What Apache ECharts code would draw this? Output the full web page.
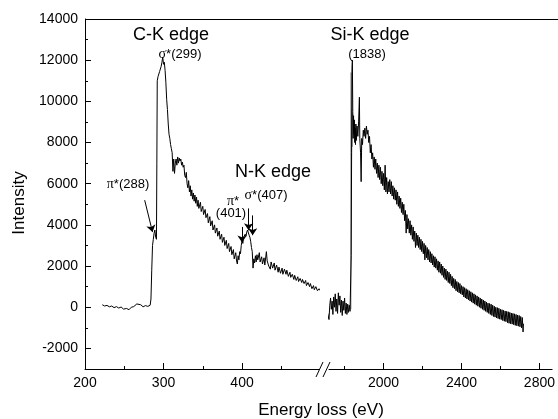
<!DOCTYPE html>
<html>
<head>
<meta charset="utf-8">
<script src="https://cdn.jsdelivr.net/npm/echarts@6.0.0/dist/echarts.min.js"></script>
<style>
  html, body { margin: 0; padding: 0; background: #fff; }
  #chart { width: 558px; height: 419px; }
</style>
</head>
<body>
<div id="chart"></div>
<script>
// Low-loss side of the spectrum: C-K and N-K edges [energy loss eV, counts]
const cnEdgeSpectrum = [
  [222,120],[225,60],[228,90],[231,20],[234,60],[237,-20],[240,30],[243,-40],[246,10],[249,-90],
  [251,-170],[253,-60],[256,-120],[259,0],[262,30],[264,110],[266,160],[268,80],[271,120],[274,20],
  [277,80],[280,40],[283,100],[284,400],[285,1800],[286,3000],[287,3300],[288,3600],[289,3750],[290,3400],
  [291,3300],[291.5,7000],[292,11000],[293,11200],[295,11450],[297,11700],[298,11900],[299,12150],[300,11800],[301,11900],
  [302,11500],[303,10900],[304,10100],[305,9600],[306,8900],[307,8400],[308,8200],[309,7900],[310,7700],[311,7500],
  [312,6600],[313,7200],[314,6500],[315,7000],[316,7200],[317,6900],[318,7300],[319,7000],[320,7250],[321,7100],
  [322,7200],[323,6900],[324,7050],[325,6800],[326,6900],[327,6400],[328,6300],[329,6550],[330,6000],[331,5800],
  [332,6150],[333,5600],[334,5900],[335,5400],[336,5700],[337,5250],[338,5550],[339,5150],[340,5450],[341,5050],
  [342,5350],[343,4900],[344,5200],[345,4800],[347,5100],[348,4650],[350,4900],[351,4500],[353,4750],[354,4350],
  [356,4550],[357,4100],[359,4400],[360,3950],[362,4200],[363,3750],[365,4000],[366,3600],[368,3850],[369,3450],
  [371,3700],[372,3300],[374,3550],[375,3150],[377,3400],[378,3000],[380,3250],[381,2850],[383,3100],[384,2700],
  [386,2950],[387,2550],[389,2800],[390,2350],[392,2650],[393,2250],[394,2100],[395,2500],[396,2300],[397,2700],
  [398,2600],[399,3000],[400,3250],[401,3100],[402,3400],[403,3350],[404,3550],[405,3450],[406,3650],[407,3750],
  [408,3700],[409,3500],[410,3400],[411,3200],[412,2900],[413,2700],[414,1900],[415,2350],[416,2150],[417,2500],
  [418,2200],[419,2550],[420,2300],[422,2650],[423,2200],[425,2450],[426,2100],[428,2400],[429,2050],[431,2700],
  [432,2250],[434,2000],[436,1850],[437,2200],[439,1900],[441,2150],[442,1800],[444,2050],[446,1700],[447,1950],
  [449,1650],[451,1900],[452,1600],[454,1850],[456,1600],[457,1800],[459,1500],[461,1700],[462,1450],[464,1600],
  [466,1350],[467,1550],[469,1300],[471,1480],[472,1250],[474,1400],[476,1200],[477,1350],[479,1150],[481,1300],
  [482,1050],[484,1200],[486,1000],[487,1150],[489,900],[491,1050],[492,850],[494,1000],[496,800],[498,900],[499,820]
];

// High-loss side: Si-K edge [energy loss eV, counts]
const siEdgeSpectrum = [
  [1675,820],[1700,200],[1712,-250],[1720,-600],[1724,100],[1728,450],[1732,-100],[1736,300],[1740,-350],[1744,500],[1748,0],
  [1752,650],[1756,-200],[1760,400],[1764,-300],[1768,700],[1772,100],[1776,550],[1780,-250],[1784,350],[1788,-400],
  [1792,300],[1796,-150],[1800,450],[1804,-300],[1808,200],[1812,-350],[1816,150],[1820,-250],[1824,100],[1828,-200],
  [1832,-150],[1834,2500],[1836,7500],[1838,11600],[1840,12000],[1842,9500],[1844,8200],[1846,9300],[1848,8400],[1850,9100],
  [1852,8000],[1854,8700],[1856,7900],[1858,8900],[1860,8100],[1864,8800],[1868,8300],[1872,9000],[1876,10200],[1878,8200],
  [1882,7500],[1885,6100],[1888,8200],[1892,7900],[1896,8600],[1900,8300],[1904,8700],[1908,8200],[1912,8800],[1916,8400],
  [1920,8600],[1924,8000],[1928,8300],[1932,7500],[1936,7900],[1940,7200],[1944,7500],[1948,6800],[1952,7300],[1956,6700],
  [1960,7200],[1964,6500],[1968,7000],[1972,6300],[1976,6900],[1980,6200],[1984,6800],[1988,6000],[1992,6600],[1996,5900],
  [2000,6500],[2004,5700],[2008,6900],[2012,5600],[2016,6300],[2020,5500],[2024,6100],[2028,5600],[2032,6200],[2036,5500],
  [2040,6100],[2044,5400],[2048,5900],[2052,5250],[2056,5800],[2060,5200],[2064,5700],[2068,5000],[2072,5600],[2076,4900],
  [2080,5400],[2084,4800],[2088,5300],[2092,4600],[2096,5100],[2100,4500],[2104,5000],[2108,4200],[2112,4700],[2116,3600],
  [2120,4500],[2124,3800],[2128,4300],[2132,3600],[2136,4200],[2140,3500],[2144,4000],[2148,3300],[2152,3900],[2156,3200],
  [2160,3700],[2164,2900],[2168,3600],[2172,3000],[2176,3500],[2180,2900],[2184,3400],[2188,2800],[2192,3300],[2196,2700],
  [2200,3200],[2204,2600],[2208,3100],[2212,2300],[2216,3000],[2220,2400],[2224,2900],[2228,2300],[2232,2800],[2236,2200],
  [2240,2700],[2244,2150],[2248,2600],[2252,2050],[2256,2500],[2260,1950],[2264,2450],[2268,1900],[2272,2350],[2276,1800],
  [2280,2250],[2284,1700],[2288,2200],[2292,1650],[2296,2100],[2300,1550],[2304,2000],[2308,1450],[2312,1900],[2316,1350],
  [2320,1850],[2324,1300],[2328,1750],[2332,1200],[2336,1700],[2340,1150],[2344,1600],[2348,1050],[2352,1500],[2356,950],
  [2360,1400],[2364,900],[2368,1350],[2372,800],[2376,1250],[2380,750],[2384,1200],[2388,700],[2392,1150],[2396,650],
  [2400,1050],[2404,600],[2408,1000],[2412,500],[2416,950],[2420,450],[2424,900],[2428,400],[2432,850],[2436,350],
  [2440,800],[2444,300],[2448,750],[2452,250],[2456,700],[2460,200],[2464,650],[2468,150],[2472,600],[2476,100],
  [2480,550],[2484,50],[2488,500],[2492,0],[2496,450],[2500,-50],[2504,400],[2508,-100],[2512,350],[2516,-150],
  [2520,300],[2524,-200],[2528,250],[2532,-250],[2536,200],[2540,-300],[2544,180],[2548,-350],[2552,150],[2556,-400],
  [2560,100],[2564,-450],[2568,50],[2572,-480],[2576,0],[2580,-520],[2584,-20],[2588,-550],[2592,-50],[2596,-580],
  [2600,-100],[2604,-600],[2608,-120],[2612,-650],[2616,-150],[2620,-680],[2624,-180],[2628,-700],[2632,-200],[2636,-750],
  [2640,-220],[2644,-780],[2648,-250],[2652,-800],[2656,-280],[2660,-820],[2664,-300],[2668,-850],[2672,-320],[2676,-880],
  [2680,-350],[2684,-900],[2688,-380],[2692,-920],[2696,-400],[2700,-950],[2704,-450],[2708,-1000],[2712,-500],[2716,-1200],
  [2718,-800]
];

// grey trace under the Si-K onset
const siOnsetGrey = [[1832,-100],[1833,11400],[1835,7200],[1837,9600],[1839,7800],[1841,9400],[1843,8600],[1846,9000]];

// annotation arrows [from, to] in data coords
const cArrows = [[[276,5200],[286,3650]]];
const nArrows = [[[400,3900],[400,3150]], [[408.3,4800],[408.3,3740]], [[413.5,4460],[413.5,3500]]];

const yTicks = [-2000, 0, 2000, 4000, 6000, 8000, 10000, 12000, 14000];
const yMinorTicks = [-1000, 1000, 3000, 5000, 7000, 9000, 11000, 13000];
const xTicksLow = [200, 300, 400];
const xMinorLow = [250, 350, 450];
const xTicksHigh = [2000, 2400, 2800];
const xMinorHigh = [1800, 2200, 2600];

const FONT = '"Liberation Sans", Arial, sans-serif';
const plain = v => String(v);
const chart = echarts.init(document.getElementById('chart'));

function xMajor(grid, min, max, ticks) {
  return {
    gridIndex: grid, type: 'value', min: min, max: max, position: 'bottom',
    axisLine: { show: true, onZero: false, lineStyle: { color: '#000', width: 1 } },
    axisTick: { show: true, inside: true, length: 6, customValues: ticks, lineStyle: { color: '#000' } },
    axisLabel: { show: true, customValues: ticks, formatter: plain, fontSize: 14, color: '#000', margin: 7, fontFamily: FONT },
    splitLine: { show: false }
  };
}
function xMinor(grid, min, max, ticks) {
  return {
    gridIndex: grid, type: 'value', min: min, max: max, position: 'bottom',
    axisLine: { show: false, onZero: false },
    axisTick: { show: true, inside: true, length: 3, customValues: ticks, lineStyle: { color: '#000' } },
    axisLabel: { show: false },
    splitLine: { show: false }
  };
}

const arrowLine = (pairs) => ({
  silent: true,
  symbol: ['none', 'arrow'],
  symbolSize: 7,
  label: { show: false },
  lineStyle: { color: '#000', width: 1, type: 'solid' },
  data: pairs.map(p => [{ coord: p[0] }, { coord: p[1] }])
});

const smallText = (x, y, txt) => ({
  type: 'text', x: x, y: y, silent: true,
  style: {
    text: txt, font: '13px ' + FONT, fill: '#000', textAlign: 'center', textVerticalAlign: 'middle',
    rich: { g: { fontFamily: '"Liberation Serif", serif', fontSize: 14 } }
  }
});
const bigText = (x, y, txt) => ({
  type: 'text', x: x, y: y, silent: true,
  style: { text: txt, font: '18px ' + FONT, fill: '#000', textAlign: 'center', textVerticalAlign: 'middle' }
});

const option = {
  animation: false,
  textStyle: { fontFamily: FONT },
  grid: [
    { left: 85, top: 19, width: 234, height: 350 },
    { left: 329, top: 19, width: 229, height: 350 }
  ],
  xAxis: [
    xMajor(0, 200, 498, xTicksLow),
    xMinor(0, 200, 498, xMinorLow),
    xMajor(1, 1720, 2865, xTicksHigh),
    xMinor(1, 1720, 2865, xMinorHigh)
  ],
  yAxis: [
    {
      gridIndex: 0, type: 'value', min: -3000, max: 14000,
      axisLine: { show: true, lineStyle: { color: '#000', width: 1 } },
      axisTick: { show: true, inside: true, length: 6, customValues: yTicks, lineStyle: { color: '#000' } },
      axisLabel: { show: true, customValues: yTicks, formatter: plain, fontSize: 14, color: '#000', margin: 7, fontFamily: FONT },
      splitLine: { show: false }
    },
    {
      gridIndex: 0, type: 'value', min: -3000, max: 14000, position: 'left',
      axisLine: { show: false },
      axisTick: { show: true, inside: true, length: 3, customValues: yMinorTicks, lineStyle: { color: '#000' } },
      axisLabel: { show: false },
      splitLine: { show: false }
    },
    { gridIndex: 1, type: 'value', min: -3000, max: 14000, show: false }
  ],
  series: [
    {
      type: 'line', xAxisIndex: 0, yAxisIndex: 0, data: cnEdgeSpectrum,
      showSymbol: false, clip: false, lineStyle: { color: '#000', width: 1 },
      markLine: arrowLine(cArrows.concat(nArrows))
    },
    {
      type: 'line', xAxisIndex: 2, yAxisIndex: 2, data: siOnsetGrey,
      showSymbol: false, clip: false, lineStyle: { color: '#8a8a8a', width: 1.2 }
    },
    {
      type: 'line', xAxisIndex: 2, yAxisIndex: 2, data: siEdgeSpectrum,
      showSymbol: false, clip: false, lineStyle: { color: '#000', width: 1 }
    }
  ],
  graphic: [
    // frame top and axis break marks
    { type: 'line', silent: true, shape: { x1: 85, y1: 19.5, x2: 558, y2: 19.5 }, style: { stroke: '#000', lineWidth: 1 } },
    { type: 'line', silent: true, shape: { x1: 316, y1: 377, x2: 323, y2: 362 }, style: { stroke: '#000', lineWidth: 1 } },
    { type: 'line', silent: true, shape: { x1: 323, y1: 377, x2: 330, y2: 362 }, style: { stroke: '#000', lineWidth: 1 } },
    bigText(171, 35, 'C-K edge'),
    smallText(180, 54, '{g|σ}*(299)'),
    bigText(370, 35, 'Si-K edge'),
    smallText(367, 54, '(1838)'),
    bigText(273, 172, 'N-K edge'),
    smallText(266, 195, '{g|σ}*(407)'),
    smallText(233, 201, '{g|π}*'),
    smallText(231, 213, '(401)'),
    smallText(128, 184, '{g|π}*(288)'),
    {
      type: 'text', x: 321, y: 410, silent: true,
      style: { text: 'Energy loss (eV)', font: '17px ' + FONT, fill: '#000', textAlign: 'center', textVerticalAlign: 'middle' }
    },
    {
      type: 'text', x: 19, y: 203, rotation: Math.PI / 2, silent: true,
      style: { text: 'Intensity', font: '17px ' + FONT, fill: '#000', textAlign: 'center', textVerticalAlign: 'middle' }
    }
  ]
};

chart.setOption(option);
</script>
</body>
</html>
